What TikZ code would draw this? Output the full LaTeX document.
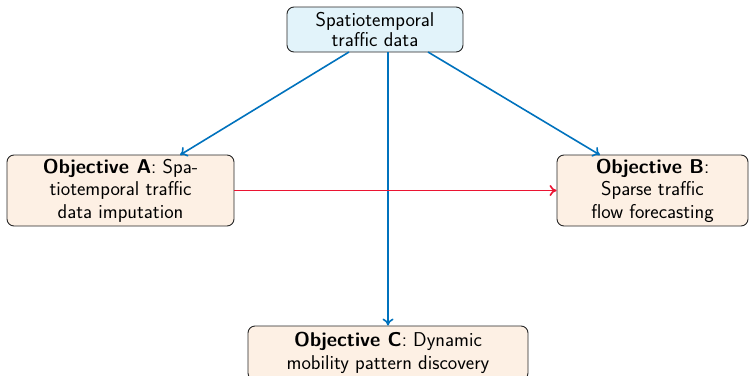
\documentclass[tikz,border=0pt]{standalone}
\usetikzlibrary{arrows.meta}
\definecolor{topfill}{RGB}{226,243,250}
\definecolor{objfill}{RGB}{253,240,228}
\definecolor{arrblue}{RGB}{0,114,189}
\definecolor{arrred}{RGB}{235,20,50}
\tikzset{
  box/.style={draw=black!85, line width=0.9pt, rounded corners=7pt, align=center, inner sep=0pt},
  topbox/.style={box, fill=topfill, font=\sffamily\fontsize{20}{19.5}\selectfont},
  objbox/.style={box, fill=objfill, font=\sffamily\fontsize{20}{22.5}\selectfont},
  conn/.style={line width=1.6pt, -{To[length=7pt,width=11pt]}},
}
\begin{document}
\begin{tikzpicture}[x=1pt,y=-1pt]
\useasboundingbox (0,0) rectangle (755,375);
\node[topbox, minimum width=176pt, minimum height=45pt] (top) at (375,29.5) {Spatiotemporal\\traffic data};
\node[objbox, minimum width=227pt, minimum height=71pt] (A) at (120.5,190.5) {\textbf{Objective A}: Spa-\\tiotemporal traffic\\data imputation};
\node[objbox, minimum width=191pt, minimum height=71pt] (B) at (652.5,190.5) {\textbf{Objective B}:\\Sparse traffic\\flow forecasting};
\node[objbox, minimum width=280pt, minimum height=54pt] (C) at (388,353) {\textbf{Objective C}: Dynamic\\mobility pattern discovery};
\coordinate (tA) at (349,52);
\coordinate (tC) at (388,52);
\coordinate (tB) at (428,52);
\coordinate (eA) at (180,155);
\coordinate (eB) at (600,155);
\draw[conn, arrblue] (tA) -- (eA);
\draw[conn, arrblue] (tC) -- (C.north);
\draw[conn, arrblue] (tB) -- (eB);
\draw[conn, arrred] (A.east) -- (B.west);
\end{tikzpicture}
\end{document}
